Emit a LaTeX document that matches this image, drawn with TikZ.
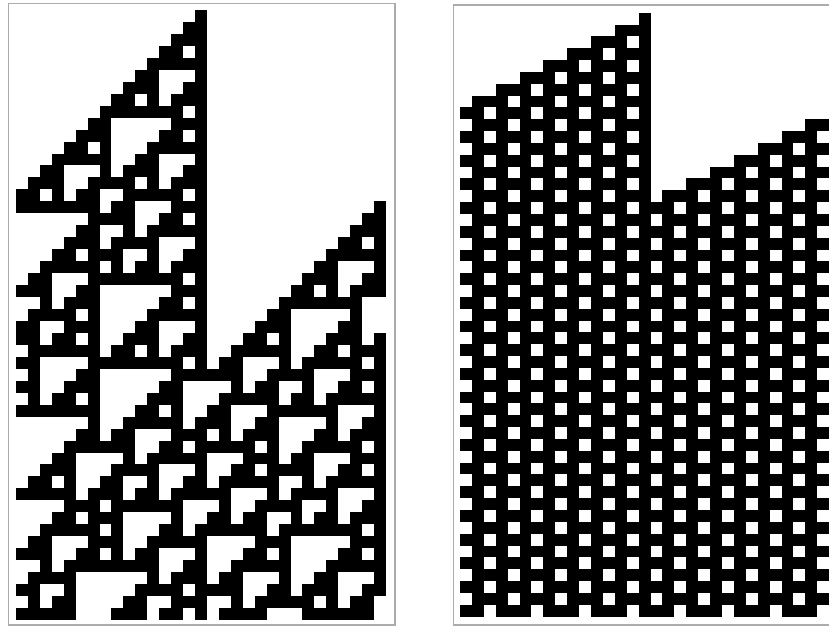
\documentclass[tikz,border=0pt]{standalone}

\makeatletter
\newcount\caJ \newcount\caIdx \newcount\caBit
\def\caget#1#2{\csname ca@#1@\number#2\endcsname}
\def\cawrap#1#2{\caJ=\numexpr#1\relax
  \ifnum\caJ<\z@ \advance\caJ#2\relax\fi
  \ifnum\caJ<#2\relax\else\advance\caJ-#2\relax\fi}
% \caseed{name}{cells}{black cell}
\def\caseed#1#2#3{\count@=\z@
  \loop\ifnum\count@<#2\relax
    \expandafter\xdef\csname ca@#1@\the\count@\endcsname{\ifnum\count@=#3 1\else0\fi}%
    \advance\count@\@ne\repeat}
% \castep{name}{cells}{rule}{offset a}{offset b}{offset c}, cyclic
\def\castep#1#2#3#4#5#6{\count@=\z@
  \loop\ifnum\count@<#2\relax
    \cawrap{\count@+(#4)}{#2}\caIdx=\numexpr4*\caget{#1}{\caJ}\relax
    \cawrap{\count@+(#5)}{#2}\advance\caIdx\numexpr2*\caget{#1}{\caJ}\relax
    \cawrap{\count@+(#6)}{#2}\advance\caIdx\caget{#1}{\caJ}\relax
    \caBit=#3\relax
    \divide\caBit\ifcase\caIdx 1\or2\or4\or8\or16\or32\or64\or128\fi\relax
    \expandafter\xdef\csname ca@#1@new@\the\count@\endcsname{\ifodd\caBit1\else0\fi}%
    \advance\count@\@ne\repeat
  \count@=\z@
  \loop\ifnum\count@<#2\relax
    \expandafter\global\expandafter\let\csname ca@#1@\the\count@\expandafter\endcsname
      \csname ca@#1@new@\the\count@\endcsname
    \advance\count@\@ne\repeat}
\makeatother

\tikzset{panel/.style={draw=gray!65,line width=1.1pt}}

\begin{document}
\begin{tikzpicture}[x=1pt,y=-1pt]
\useasboundingbox (0,0) rectangle (829,627);
\clip (0,0) rectangle (829,627);
% left: rule 110, 31 cells, cyclic
\draw[panel] (8.3,3.3) rectangle (395,625);
\caseed{L}{31}{15}
\foreach \r in {0,...,50} {
  \foreach \c in {0,...,30} {\ifnum\caget{L}{\c}=1 \fill (16+\c*11.935,10+\r*11.96) rectangle ++(11.935,11.96);\fi}
  \castep{L}{31}{110}{-1}{0}{1}
}
% right: rule 190 on cells i,i+1,i+2, 32 cells, cut at the edge
\draw[panel] (453.3,5) rectangle (850,625);
\caseed{R}{32}{15}
\foreach \r in {0,...,50} {
  \foreach \c in {0,...,31} {\ifnum\caget{R}{\c}=1 \fill (460+\c*11.91,12.7+\r*11.84) rectangle ++(11.91,11.84);\fi}
  \castep{R}{32}{190}{0}{1}{2}
}
\end{tikzpicture}
\end{document}
